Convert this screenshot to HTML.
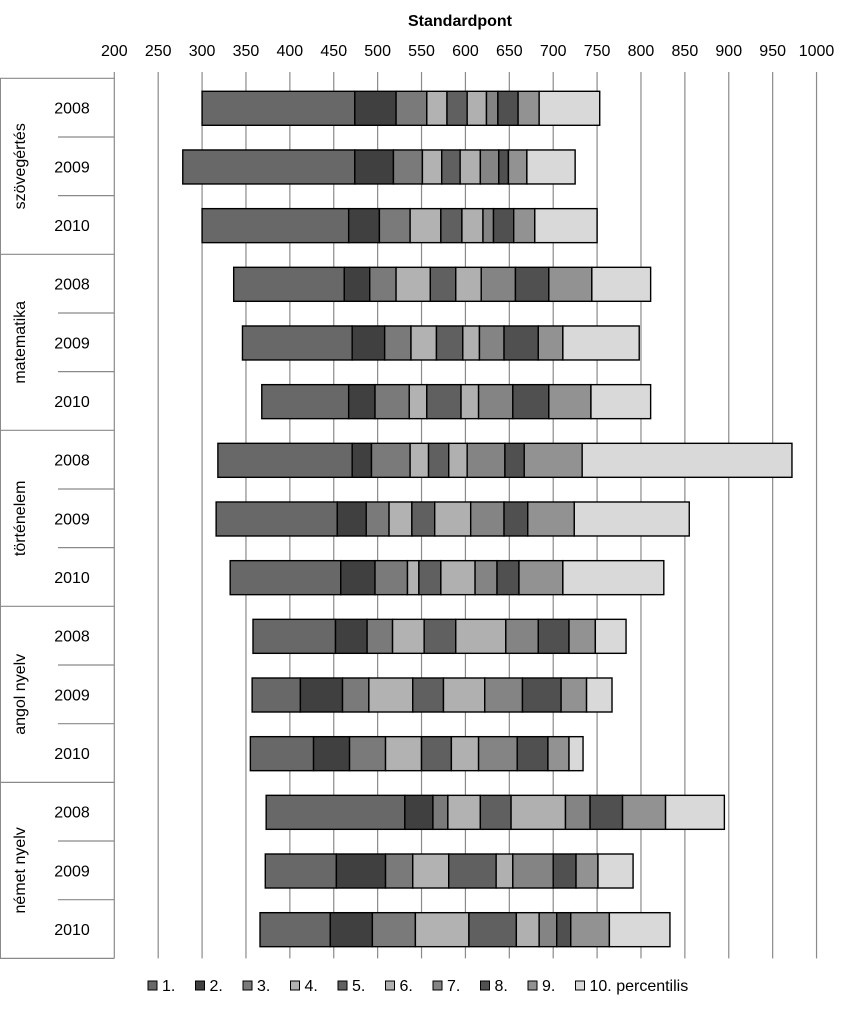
<!DOCTYPE html>
<html><head><meta charset="utf-8"><style>
html,body{margin:0;padding:0;background:#fff}
svg{display:block;font-family:"Liberation Sans",sans-serif}
</style></head><body>
<svg id="chart" width="852" height="1017"></svg>
<script>
const ticks=[200,250,300,350,400,450,500,550,600,650,700,750,800,850,900,950,1000];
const subjects=["szövegértés","matematika","történelem","angol nyelv","német nyelv"];
const years=["2008","2009","2010"];
const legendLabels=["1.","2.","3.","4.","5.","6.","7.","8.","9.","10. percentilis"];
const r_szov08=[300,474,521,556,579,602,624,637,660,684,753];
const r_szov09=[278,474,518,551,573,594,617,638,649,670,725];
const r_szov10=[300,467,502,537,572,596,620,632,655,679,750];
const r_mat08=[336,462,491,521,560,589,618,657,695,744,811];
const r_mat09=[346,471,508,538,567,597,616,644,683,711,798];
const r_mat10=[368,467,497,536,556,595,615,654,695,743,811];
const r_tort08=[318,471,493,537,558,581,602,645,667,733,972];
const r_tort09=[316,454,487,513,539,565,606,644,671,724,855];
const r_tort10=[332,458,497,534,547,572,611,636,661,711,826];
const r_ang08=[358,452,488,517,553,589,646,683,718,748,783];
const r_ang09=[357,412,460,490,540,575,622,665,709,738,767];
const r_ang10=[355,427,468,509,550,584,615,659,694,718,734];
const r_nem08=[373,531,563,580,617,652,714,742,779,828,895];
const r_nem09=[372,453,509,540,581,635,654,700,726,751,791];
const r_nem10=[366,446,494,543,604,658,684,704,720,764,833];
const rows=[r_szov08,r_szov09,r_szov10,r_mat08,r_mat09,r_mat10,r_tort08,r_tort09,r_tort10,r_ang08,r_ang09,r_ang10,r_nem08,r_nem09,r_nem10];
const colors=["#686868","#404040","#7a7a7a","#b2b2b2","#606060","#b0b0b0","#848484","#505050","#929292","#d9d9d9"];

const NS="http://www.w3.org/2000/svg";
const svg=document.getElementById("chart");
function mk(t,a,p){const e=document.createElementNS(NS,t);for(const k in a)e.setAttribute(k,a[k]);(p||svg).appendChild(e);return e;}
const x=v=>114.3+(v-200)*0.8778;
const top0=78.3,rowH=58.67,bottom=top0+15*rowH;
const y=i=>top0+i*rowH;

const title=mk("text",{x:460,y:26,"text-anchor":"middle","font-size":16,"font-weight":"bold",fill:"#000"});
title.textContent="Standardpont";



ticks.forEach(t=>{
  const l=mk("line",{x1:x(t),x2:x(t),y1:72,y2:bottom,stroke:"#8a8a8a","stroke-width":1.2});
  
  
  const tx=mk("text",{x:x(t),y:56,"text-anchor":"middle","font-size":16,fill:"#000"});
  tx.textContent=t;
  
  
});

// category area lines
for(let i=0;i<=15;i++){
  const full=i%3===0;
  const l=mk("line",{x1:full?0:58,x2:x(200),y1:y(i),y2:y(i),stroke:"#8a8a8a","stroke-width":1.2});
  
  
}
const lv=mk("line",{x1:0.5,x2:0.5,y1:top0,y2:bottom,stroke:"#8a8a8a","stroke-width":1});



subjects.forEach((s,g)=>{
  const cy=y(g*3)+rowH*1.5;
  const t=mk("text",{x:0,y:0,"text-anchor":"middle","font-size":16,fill:"#000",transform:`translate(25,${cy}) rotate(-90)`});
  t.textContent=s;
  
  
  years.forEach((yr,k)=>{
    const yt=mk("text",{x:72,y:y(g*3+k)+rowH/2+6,"text-anchor":"middle","font-size":16,fill:"#000"});
    yt.textContent=yr;
    
    
  });
});

rows.forEach((r,i)=>{
  const g=mk("g",{});
  
  
  for(let k=0;k<10;k++){
    const rc=mk("rect",{x:x(r[k]),y:y(i)+13,width:x(r[k+1])-x(r[k]),height:34,fill:colors[k],stroke:"#000","stroke-width":1.4},g);
    
    
  }
});

// legend
let lx=148;
legendLabels.forEach((lab,k)=>{
  const g=mk("g",{});
  
  
  mk("rect",{x:lx,y:981,width:9,height:9,fill:colors[k],stroke:"#000","stroke-width":1},g);
  const t=mk("text",{x:lx+14,y:991,"font-size":16,fill:"#000"},g);
  t.textContent=lab;
  lx+=47.5;
});
</script>
</body></html>
